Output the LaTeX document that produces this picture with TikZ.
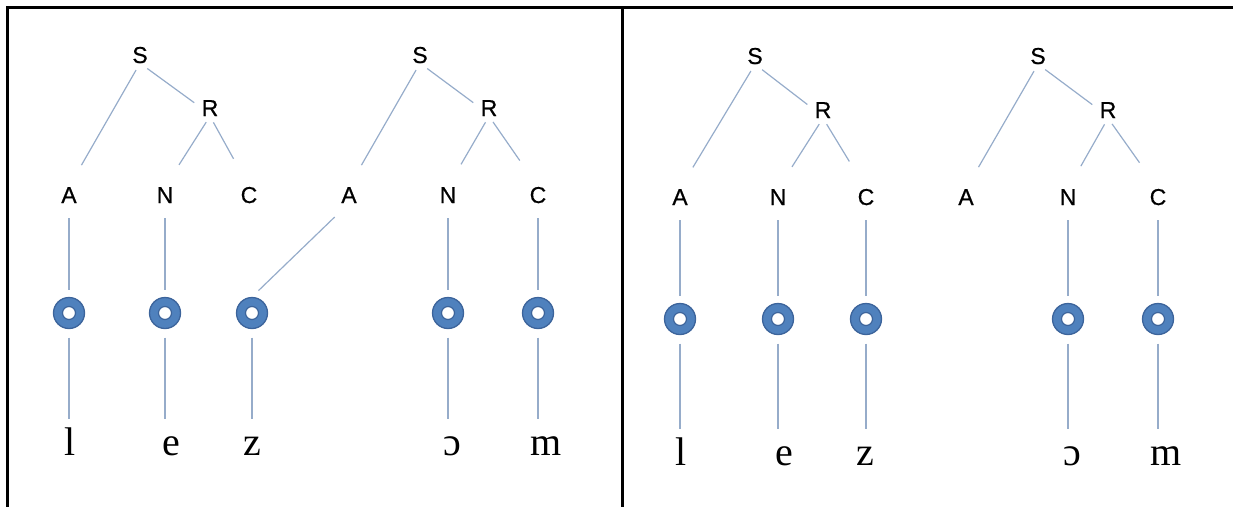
\documentclass[tikz,border=0pt]{standalone}
\usepackage{fontspec}
\setmainfont{Liberation Serif}
\newfontfamily\labelfont[FakeBold=0.6]{Liberation Sans}
\definecolor{ringblue}{RGB}{79,129,189}
\definecolor{ringdark}{RGB}{60,100,155}
\definecolor{edgeblue}{RGB}{150,172,202}
\begin{document}
\begin{tikzpicture}[x=1pt,y=-1pt,
  lab/.style={font=\labelfont\fontsize{23}{23}\selectfont, inner sep=0pt, text height=16pt, text depth=0pt},
  seg/.style={font=\fontsize{40}{40}\selectfont, inner sep=0pt, text height=28pt, text depth=0pt, anchor=base},
  ring/.style={circle, minimum size=31pt, inner sep=0pt, fill=ringblue, draw=ringdark, line width=1.3pt,
    path picture={\draw[ringdark, line width=1.2pt, fill=white] (path picture bounding box.center) circle (6.5pt);}},
  edge/.style={draw=edgeblue, line width=1.2pt},
  sa/.style={edge, shorten <=8pt, shorten >=25pt},
  sr/.style={edge, shorten <=9pt, shorten >=9pt},
  rn/.style={edge, shorten <=7pt, shorten >=26pt},
  rc/.style={edge, shorten <=7pt, shorten >=32pt},
  up/.style={edge, shorten <=15pt, shorten >=7pt},
  down/.style={edge, shorten <=8.5pt, shorten >=8pt},
  frame/.style={draw=black, line width=3pt}]
\useasboundingbox (0,0) rectangle (1233,506);
% frame
\draw[frame] (7,510) -- (7,7) -- (1240,7);
\draw[frame] (622,7) -- (622,510);

% ---------- left panel ----------
\node[lab] (S1) at (140,55) {S};
\node[lab] (R1) at (210,108) {R};
\node[lab] (A1) at (69,195) {A};
\node[lab] (N1) at (165,195) {N};
\node[lab] (C1) at (249,195) {C};
\node[lab] (S2) at (420,55) {S};
\node[lab] (R2) at (489,108) {R};
\node[lab] (A2) at (349,195) {A};
\node[lab] (N2) at (448,195) {N};
\node[lab] (C2) at (538,195) {C};

\node[ring] (d1) at (69,313) {};
\node[ring] (d2) at (165,313) {};
\node[ring] (d3) at (252,313) {};
\node[ring] (d4) at (448,313) {};
\node[ring] (d5) at (538,313) {};

\node[seg] (l1) at (70,455) {l};
\node[seg] (e1) at (171,455) {e};
\node[seg] (z1) at (252,455) {z};
\node[seg] (o1) at (452,455) {ɔ};
\node[seg] (m1) at (546,455) {m};

\draw[sa] (S1.south) -- (A1.north);
\draw[sr] (S1.south) -- (R1.west);
\draw[rn] (R1.south) -- (N1.north);
\draw[rc] (R1.south) -- (C1.north);
\draw[sa] (S2.south) -- (A2.north);
\draw[sr] (S2.south) -- (R2.west);
\draw[rn] (R2.south) -- (N2.north);
\draw[rc] (R2.south) -- (C2.north);

\draw[up] (A1.south) -- (d1.north);
\draw[up] (N1.south) -- (d2.north);
\draw[edge, shorten <=20pt, shorten >=9pt] (A2.south) -- (d3.north);
\draw[up] (N2.south) -- (d4.north);
\draw[up] (C2.south) -- (d5.north);

\draw[down] (d1.south) -- (d1.south |- l1.north);
\draw[down] (d2.south) -- (d2.south |- e1.north);
\draw[down] (d3.south) -- (d3.south |- z1.north);
\draw[down] (d4.south) -- (d4.south |- o1.north);
\draw[down] (d5.south) -- (d5.south |- m1.north);

% ---------- right panel ----------
\node[lab] (S3) at (755,56) {S};
\node[lab] (R3) at (823,110) {R};
\node[lab] (A3) at (680,197) {A};
\node[lab] (N3) at (778,197) {N};
\node[lab] (C3) at (866,197) {C};
\node[lab] (S4) at (1038,56) {S};
\node[lab] (R4) at (1108,110) {R};
\node[lab] (A4) at (966,197) {A};
\node[lab] (N4) at (1068,197) {N};
\node[lab] (C4) at (1158,197) {C};

\node[ring] (d6) at (680,319) {};
\node[ring] (d7) at (778,319) {};
\node[ring] (d8) at (866,319) {};
\node[ring] (d9) at (1068,319) {};
\node[ring] (d10) at (1158,319) {};

\node[seg] (l2) at (681,465) {l};
\node[seg] (e2) at (784,465) {e};
\node[seg] (z2) at (865,465) {z};
\node[seg] (o2) at (1072,465) {ɔ};
\node[seg] (m2) at (1166,465) {m};

\draw[sa] (S3.south) -- (A3.north);
\draw[sr] (S3.south) -- (R3.west);
\draw[rn] (R3.south) -- (N3.north);
\draw[rc] (R3.south) -- (C3.north);
\draw[sa] (S4.south) -- (A4.north);
\draw[sr] (S4.south) -- (R4.west);
\draw[rn] (R4.south) -- (N4.north);
\draw[rc] (R4.south) -- (C4.north);

\draw[up] (A3.south) -- (d6.north);
\draw[up] (N3.south) -- (d7.north);
\draw[up] (C3.south) -- (d8.north);
\draw[up] (N4.south) -- (d9.north);
\draw[up] (C4.south) -- (d10.north);

\draw[down] (d6.south) -- (d6.south |- l2.north);
\draw[down] (d7.south) -- (d7.south |- e2.north);
\draw[down] (d8.south) -- (d8.south |- z2.north);
\draw[down] (d9.south) -- (d9.south |- o2.north);
\draw[down] (d10.south) -- (d10.south |- m2.north);
\end{tikzpicture}
\end{document}
